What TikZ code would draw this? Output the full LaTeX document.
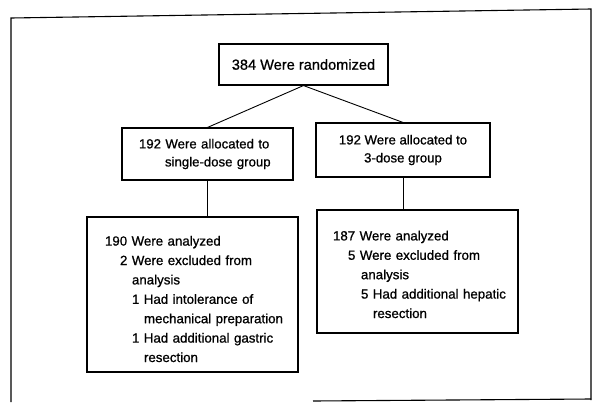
\documentclass[tikz,border=0pt]{standalone}
\usepackage{fontspec}
\setmainfont{Liberation Sans}[FakeBold=0.8]
\usetikzlibrary{positioning}
\tikzset{
    box/.style={
    rectangle,draw=black,line width=1.1pt,inner sep=0pt
    },
    head/.style={
    box,font=\fontsize{14.6}{17}\selectfont
    },
    arm/.style={
    box,font=\fontsize{13.2}{18}\selectfont
    },
    result/.style={
    box,align=left,font=\fontsize{13.3}{19.4}\selectfont
    },
    link/.style={
    draw=black,line width=0.9pt
    },
}
\begin{document}
\begin{tikzpicture}[x=1pt,y=-1pt]
   \useasboundingbox (0,0) rectangle (592,402);
   % frame round the chart
   \draw[line width=1.1pt] (11,402) -- (11,18) -- (591,9) -- (591,400);
   \draw[line width=1.1pt] (313,401) -- (591,399);

   \node[head,minimum width=169pt,minimum height=41pt] (rand) at (303.5,64.5) {384 Were randomized};
   \node[arm,text width=171pt,align=left,minimum height=52pt] (single) at (207.5,154)
      {\hspace*{17pt}192 Were allocated to\\\hspace*{43pt}single-dose group};
   \node[arm,align=center,minimum width=174pt,minimum height=54pt] (triple) at (403,150)
      {192 Were allocated to\\3-dose group};
   \node[result,text width=211pt,text height=18.6pt,text depth=116.4pt,minimum height=155pt] (anaS) at (192.5,294.5)
      {\hspace*{18pt}190 Were analyzed\\
       \hspace*{33pt}2 Were excluded from\\
       \hspace*{45pt}analysis\\
       \hspace*{45pt}1 Had intolerance of\\
       \hspace*{57pt}mechanical preparation\\
       \hspace*{45pt}1 Had additional gastric\\
       \hspace*{57pt}resection};
   \node[result,text width=201pt,text height=15.4pt,text depth=77.6pt,minimum height=123pt] (anaT) at (417.5,271.5)
      {\hspace*{16pt}187 Were analyzed\\
       \hspace*{31pt}5 Were excluded from\\
       \hspace*{44pt}analysis\\
       \hspace*{44pt}5 Had additional hepatic\\
       \hspace*{56pt}resection};

  \path[link]
    (rand.south) edge (single.north)
    (rand.south) edge (triple.north)
    (single.south) edge (single.south |- anaS.north)
    (triple.south) edge (triple.south |- anaT.north);
\end{tikzpicture}
\end{document}
